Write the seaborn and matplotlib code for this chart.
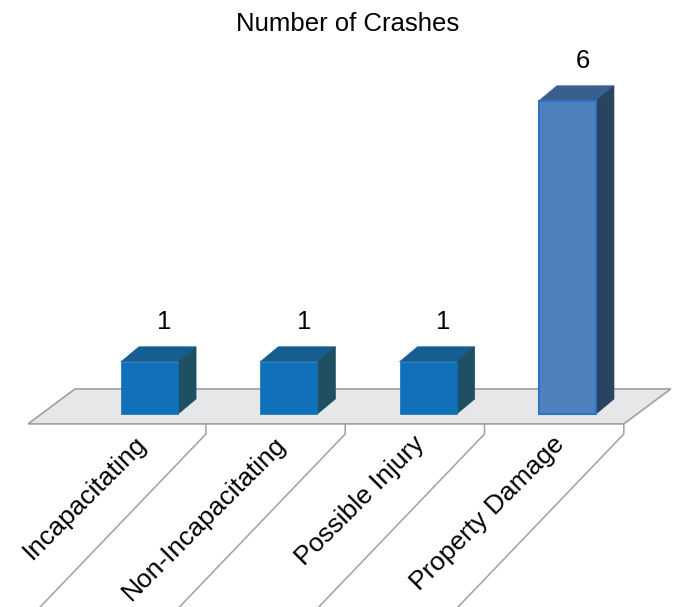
import numpy as np
import pandas as pd
import matplotlib
matplotlib.use("Agg")
import matplotlib.pyplot as plt
from matplotlib.patches import Polygon
import seaborn as sns

# chart data
categories = ["Incapacitating", "Non-Incapacitating", "Possible Injury", "Property Damage"]
crashes = [1, 1, 1, 6]
title = "Number of Crashes"

front_colors = ["#1170BA", "#1170BA", "#1170BA", "#4F81BD"]
top_colors = ["#165E92", "#165E92", "#165E92", "#3A5F8E"]
side_colors = ["#1F4F63", "#1F4F63", "#1F4F63", "#2A4360"]
edge_colors = ["#1170BA", "#1170BA", "#1170BA", "#2D74C4"]

sns.set_style("white")
plt.rcParams['font.family'] = ['Liberation Sans', 'DejaVu Sans']

df = pd.DataFrame({'cat': categories, 'n': crashes})

fig = plt.figure(figsize=(6.74, 6.07), dpi=100)
ax = fig.add_axes([0, 0, 1, 1])

sns.barplot(data=df, x='cat', y='n', hue='cat', palette=front_colors,
            saturation=1, width=0.41, legend=False, ax=ax, zorder=3)

# pixel -> data scale: 139.3 px per category, 52.2 px per unit
ax.set_xlim(-149.5 / 139.3, (674 - 149.5) / 139.3)
ax.set_ylim((414 - 607) / 52.2, 414 / 52.2)
ax.axis('off')

# depth of the 3d effect
dx = 18 / 139.3
dy = 15 / 52.2

n = len(categories)
fl_front, fl_back = -0.19, 0.48
fl_left, fl_right = -0.872, n - 1 + 0.405
fl_sx = 47 / 139.3
floor = Polygon([(fl_left, fl_front), (fl_right, fl_front),
                 (fl_right + fl_sx, fl_back), (fl_left + fl_sx, fl_back)],
                closed=True, facecolor="#E6E7E9", edgecolor="#A0A0A0",
                lw=1.2, zorder=1)
ax.add_patch(floor)

# category separators under the floor
for i in range(n):
    xb = i + 0.405
    ax.plot([xb, xb, xb - 1.19 * 1.2], [fl_front, -0.383, -0.383 - 3.314 * 1.2],
            color="#A0A0A0", lw=1.1, zorder=1, clip_on=True)

for i, p in enumerate(ax.patches[:n]):
    if not hasattr(p, 'get_x'):
        continue
    x0 = p.get_x()
    w = p.get_width()
    h = p.get_height()
    x1 = x0 + w
    p.set_edgecolor(edge_colors[i])
    p.set_linewidth(1.5 if i == 3 else 0.5)
    top = Polygon([(x0, h), (x1, h), (x1 + dx, h + dy), (x0 + dx, h + dy)],
                  closed=True, facecolor=top_colors[i], edgecolor=top_colors[i],
                  lw=0.5, zorder=2.5)
    side = Polygon([(x1, 0), (x1 + dx, dy), (x1 + dx, h + dy), (x1, h)],
                   closed=True, facecolor=side_colors[i], edgecolor=side_colors[i],
                   lw=0.5, zorder=2.5)
    ax.add_patch(top)
    ax.add_patch(side)
    ax.text(x0 + w / 2 + 15 / 139.3, h + dy + 0.345, str(crashes[i]),
            ha='center', va='baseline', fontsize=18.5, color='black')

for i, c in enumerate(categories):
    ax.text(i - 0.11, -0.34, c, rotation=45, rotation_mode='anchor',
            ha='right', va='top', fontsize=19, color='black')

fig.text(348 / 674, 1 - 31 / 607, title, ha='center', va='baseline',
         fontsize=18.5, color='black')

fig.savefig("out.png", dpi=100)
